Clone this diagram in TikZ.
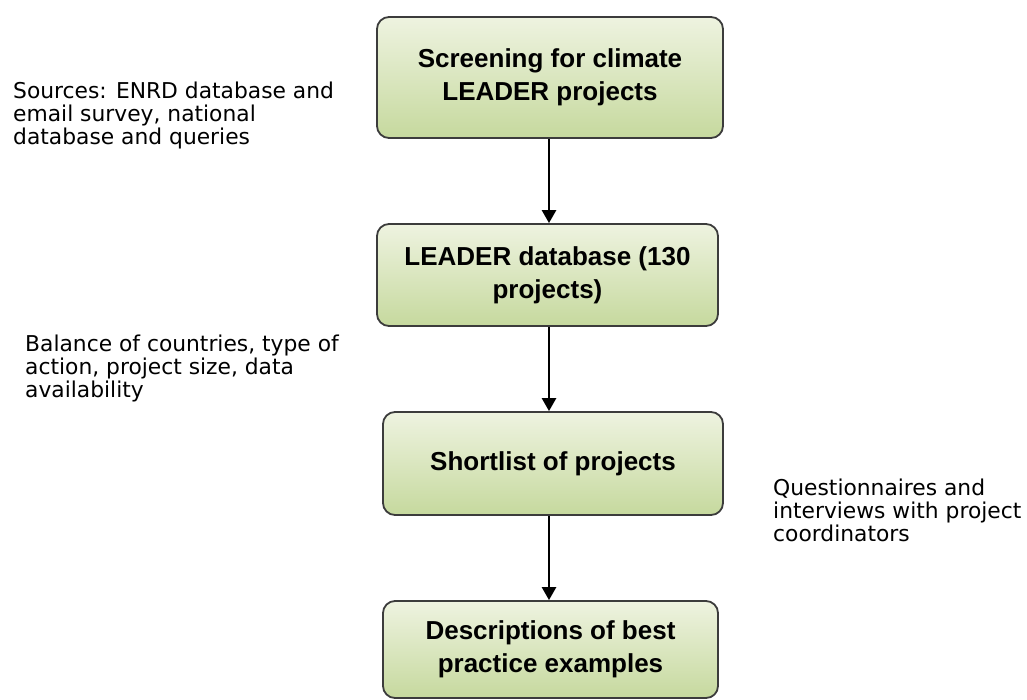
\documentclass[tikz,border=0pt]{standalone}
\usepackage{fontspec}
\setmainfont{Liberation Sans}
\newfontfamily\sidefont{DejaVu Sans}
\usetikzlibrary{arrows.meta}
\definecolor{boxtop}{RGB}{238,243,224}
\definecolor{boxbot}{RGB}{198,217,158}
\definecolor{boxline}{RGB}{60,60,60}
\tikzset{
  stepbox/.style={draw=boxline, line width=1.8pt, rounded corners=12pt,
    top color=boxtop, bottom color=boxbot, align=center, inner sep=0pt,
    font=\fontsize{26}{33}\selectfont\bfseries},
  sidetext/.style={align=left, inner sep=0pt, anchor=base west,
    font=\sidefont\fontsize{21.8}{22.7}\selectfont},
  arr/.style={line width=2.6pt, -{Triangle[width=14pt,length=13pt]}}
}
\begin{document}
\begin{tikzpicture}[x=1pt,y=-1pt]
\useasboundingbox (0,0) rectangle (1027,699);
\node[stepbox, minimum width=346pt, minimum height=121pt] (b1) at (550,77.5) {Screening for climate\\LEADER projects};
\node[stepbox, minimum width=341pt, minimum height=102pt] (b2) at (547.5,275) {LEADER database (130\\projects)};
\node[stepbox, minimum width=340pt, minimum height=103pt] (b3) at (553,463.5) {Shortlist of projects};
\node[stepbox, minimum width=335pt, minimum height=97pt] (b4) at (550.5,649.5) {Descriptions of best\\practice examples};
\coordinate (ax) at (549,0);
\draw[arr] (b1.south -| ax) -- (b2.north -| ax);
\draw[arr] (b2.south -| ax) -- (b3.north -| ax);
\draw[arr] (b3.south -| ax) -- (b4.north -| ax);
\node[sidetext] (s1) at (13,144) {Sources: ENRD database and\\email survey, national\\database and queries};
\node[sidetext] (s2) at (25,397) {Balance of countries, type of\\action, project size, data\\availability};
\node[sidetext] (s3) at (773,541) {Questionnaires and\\interviews with project\\coordinators};
\end{tikzpicture}
\end{document}
